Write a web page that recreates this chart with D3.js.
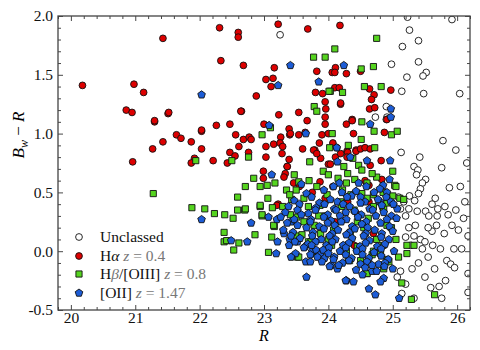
<!DOCTYPE html>
<html><head><meta charset="utf-8">
<script src="https://cdn.jsdelivr.net/npm/d3@7/dist/d3.min.js"></script>
<style>body{margin:0;background:#fff}svg{display:block}</style>
</head><body>
<svg id="c" width="480" height="350"></svg>
<script>
const xTicks=[20,21,22,23,24,25,26];
const yTicks=[-0.5,0.0,0.5,1.0,1.5,2.0];
const yTickLabels=["-0.5","0.0","0.5","1.0","1.5","2.0"];
const seriesNames=["Unclassed","Hα","Hβ/[OIII]","[OII]"];
const seriesZ=[null,"0.4","0.8","1.47"];

const unclassed=[[23.25,1.84],[25.23,1.99],[25.92,1.97],[25.26,1.88],[25.40,1.79],[25.15,1.74],[24.98,1.59],[25.40,1.61],[25.52,1.52],[25.47,1.49],[25.22,1.48],[25.14,1.36],[25.48,1.34],[26.04,1.34],[24.90,1.23],[24.73,1.14],[24.91,1.14],[24.90,1.12],
[25.78,0.94],[25.98,0.86],[25.13,0.84],[25.42,0.80],[25.33,0.72],[25.39,0.69],[25.76,0.71],[25.37,0.65],[25.51,0.61],[25.46,0.58],[25.88,0.54],[25.43,0.53],[25.40,0.49],[25.26,0.47],[25.34,0.43],[25.66,0.45],[25.61,0.40],[25.70,0.36],[25.81,0.38],[25.17,0.42],[25.25,0.36],[25.38,0.34],[25.51,0.34],[25.86,0.31],[25.69,0.30],[25.56,0.30],[25.20,0.30],[25.12,0.36],[25.09,0.46],
[26.17,0.13],[26.17,-0.19],[26.17,-0.35],[25.74,0.02],[25.95,0.02],[26.07,0.02],[25.84,-0.08],[25.90,-0.11],[25.96,-0.14],[25.61,0.17],[25.33,0.13],[25.43,0.10],[25.46,0.02],[25.12,-0.17],[25.07,-0.22],[25.14,-0.36],[25.33,-0.40],[25.59,-0.31],[25.72,-0.30],[25.76,-0.40],
[26.15,0.75],[26.05,0.55],[26.12,0.42],[25.98,0.35],[26.10,0.28],[25.92,0.22],[26.02,0.18],[25.80,0.15],[25.68,0.22],[25.55,0.20],[25.50,0.08],[25.62,0.05],[25.35,0.22],[25.25,0.20],[25.28,0.05],[25.20,0.12],[25.55,-0.05],[25.40,-0.10],[25.30,-0.15],[25.65,-0.15],[25.50,-0.22],[25.82,-0.25],[25.20,-0.28]];

const halpha=[[20.18,1.41],[21.43,1.81],[20.98,1.42],[21.13,1.35],[20.86,1.20],[20.95,1.18],[21.51,1.17],[21.30,1.10],
[22.31,1.90],[22.60,1.86],[22.60,1.82],[23.22,1.93],[23.68,1.89],[22.33,1.62],[22.68,1.58],[23.16,1.56],[23.03,1.46],[23.14,1.47],[23.11,1.40],[22.88,1.32],[23.82,1.53],[23.80,1.35],[23.91,1.34],[23.95,1.27],[23.96,1.21],[22.65,1.19],[23.23,1.16],[23.54,1.18],
[24.18,1.92],[24.11,1.56],[24.06,1.52],[24.10,1.52],[24.28,1.51],[24.50,1.53],[24.10,1.39],[24.17,1.39],[24.64,1.38],[24.97,1.37],[24.71,1.33],[24.67,1.29],[24.19,1.25],[24.64,1.21],[24.72,1.22],[24.37,1.12],[23.95,1.14],
[21.92,0.79],[21.87,0.75],[20.96,0.76],[21.27,0.87],[21.43,0.93],[21.64,0.99],[21.71,0.96],[21.87,0.93],[22.03,1.02],[22.03,0.87],[21.30,1.11],[21.52,1.18],
[22.64,1.19],[22.26,1.07],[22.47,1.08],[23.00,1.08],[24.19,1.26],[23.95,1.08],[24.28,1.08],[24.37,1.11],[22.03,1.03],[22.56,0.99],[22.68,0.95],[22.77,0.97],[22.80,0.95],[22.61,0.89],[22.76,0.84],[22.47,0.84],[22.43,0.75],[22.55,0.81],[22.21,0.77],[23.03,0.89],[23.15,0.91],[23.26,0.97],[23.25,0.92],[23.39,1.04],[23.40,0.99],[23.54,0.99],[23.67,1.11],[23.60,0.87],[23.03,0.80],[23.28,0.83],[23.39,0.78],[22.99,0.68],[23.36,0.72],[23.79,0.86],[23.88,0.79],[24.11,0.80],[24.00,0.74],[24.29,0.85],[24.43,0.86],[22.99,0.62],[23.22,0.40],
[24.87,1.01],[24.91,1.12],[24.07,0.92],[24.43,0.85],[24.50,0.87],[24.57,0.88],[24.65,0.87],[24.13,0.88],[24.30,0.84],[24.82,0.77],[24.65,0.73],[24.83,0.61],[24.57,0.60],
[23.29,0.89],[23.41,1.00],[23.64,1.01],[23.90,0.99],[23.86,0.92],[23.77,0.86],[23.82,0.83],[24.03,0.74],[23.36,0.72],[23.33,0.66],[23.31,0.63],[23.46,0.58],[23.55,0.55],[23.20,0.39],[24.63,0.56],[24.19,0.83],[24.29,0.80],[24.39,1.00],[24.00,1.00],[24.07,0.55],[23.87,0.59],
[24.46,0.31],[24.85,0.36],[24.63,0.42],[23.95,0.45],[24.30,0.42],[23.75,0.50],[24.10,0.25],[24.70,0.15],[24.40,0.05]];

const hbeta=[[24.75,1.81],[24.10,1.72],[23.95,1.65],[24.51,1.55],[24.70,1.57],[24.03,1.36],[24.22,1.35],[24.56,1.40],[24.82,1.40],[23.77,1.65],[24.01,1.36],[23.78,1.23],[23.82,1.19],
[22.97,0.99],[23.10,1.05],[24.06,1.00],[22.50,0.77],[22.76,0.80],[23.47,0.65],[23.71,0.76],[24.02,0.88],[22.71,0.55],[22.84,0.62],[22.59,0.46],[22.94,0.55],[23.05,0.56],[23.17,0.58],[23.06,0.45],[22.94,0.38],[23.13,0.37],[22.08,0.36],[22.23,0.32],[22.39,0.31],[22.52,0.28],[22.59,0.35],[22.70,0.35],[22.97,0.30],[23.16,0.21],[23.35,0.52],[23.54,0.59],[23.43,0.44],
[21.28,0.49],[21.88,0.37],[21.94,0.77],
[24.52,1.10],[24.71,1.02],[24.98,0.99],[25.07,1.02],[24.31,0.90],[24.51,0.95],[24.72,0.88],[24.38,0.79],[24.47,0.73],[24.24,0.72],[24.52,0.69],[25.00,0.68],[24.75,0.63],[24.68,0.66],[25.03,0.56],[25.00,0.47],[25.11,0.45],[24.70,0.38],[24.86,0.36],[25.17,0.44],[24.28,0.58],[24.41,0.61],[24.52,0.49],
[25.65,-0.37],[25.29,-0.41],[25.14,-0.27],
[22.71,0.36],[22.94,0.39],[22.97,0.31],[23.15,0.22],[22.86,0.14],[23.12,0.12],[23.07,-0.01],[23.29,0.38],[23.41,0.31],[23.51,0.29],[23.50,0.13],[23.59,0.14],[23.52,-0.05],[23.78,0.22],[23.69,0.08],[24.31,-0.07],[24.60,-0.19],[24.86,-0.15],[24.91,-0.07],[24.81,-0.02],[24.45,0.04],[24.91,0.22],[24.91,0.41],[24.34,0.16],[23.69,0.38],[23.87,0.39],[24.19,0.42],
[22.38,0.08],[22.42,0.09],[22.53,0.01],[22.61,0.07],[22.38,0.16],
[25.22,0.05],[25.09,-0.05],[24.94,-0.09],[24.60,-0.19],[25.33,0.05],[25.22,-0.02],[24.68,-0.03],[24.33,-0.08],[24.50,-0.08],[23.54,-0.05],[23.73,0.08],
[23.95,0.30],[24.08,0.18],[24.22,0.52],[24.62,0.28],[24.75,0.10],[24.05,0.05],[23.88,0.15],[24.40,0.35],[24.15,0.62],[23.92,0.68],[23.62,0.45],[23.82,0.55],[24.55,0.20],[24.28,0.00],[24.98,0.20],[25.05,0.10],[24.70,0.48],[23.98,0.48],[24.85,0.05],[23.75,-0.02],
[23.62,0.25],[24.00,0.10],[24.45,0.25],[24.70,0.00],[23.85,0.30],[24.20,0.38],[24.35,0.48],[24.60,0.45],[23.50,0.52],[23.70,0.60],[24.00,0.65],[24.30,0.66],[24.60,0.58],[24.85,0.50],[25.05,0.55],[23.40,0.48]];

const oii=[[22.03,1.33],[23.41,1.58],[23.22,1.41],[23.85,1.44],[24.24,1.58],[24.97,1.21],[24.97,1.14],[23.08,1.07],[23.65,1.00],[23.12,0.65],[22.80,0.24],[23.07,0.29],[22.03,0.27],[22.49,0.09],[24.65,1.08],[24.34,0.80],[24.14,0.76],[24.60,0.77],[24.96,0.77],[24.95,0.61],[24.59,0.55],[24.85,0.56],[24.91,0.50],[24.80,0.42],[25.07,0.36],[24.50,0.46],[24.17,0.58],[24.43,0.51],[24.13,0.88],
[22.74,0.08],[23.20,0.27],[23.42,0.25],[23.31,0.15],[23.21,0.08],[23.19,-0.02],[23.40,0.10],[23.39,0.05],[23.49,-0.02],[23.42,-0.05],[23.52,0.08],[23.64,0.04],[23.65,-0.09],[23.72,-0.09],[23.66,-0.22],[23.75,0.00],[23.81,0.01],[23.87,-0.03],[23.94,-0.06],[24.04,-0.12],[24.14,-0.15],[24.43,-0.16],[24.28,-0.25],[24.39,-0.26],[24.63,-0.32],[24.73,-0.37],[24.53,-0.20],[24.68,-0.17],[24.75,-0.17],[24.86,-0.23],[24.81,-0.26],[25.10,-0.40],[24.27,-0.25],
[23.58,0.57],[24.08,0.55],[24.47,0.58],[24.80,0.53],
[23.66,0.49],[23.93,0.52],[24.21,0.50],[24.36,0.47],[24.71,0.50],[24.90,0.46],
[23.47,0.43],[23.74,0.46],[23.86,0.41],[24.03,0.44],[24.14,0.42],[24.29,0.46],[24.57,0.42],[24.77,0.44],[24.97,0.42],
[23.38,0.38],[23.55,0.40],[23.81,0.37],[23.94,0.40],[24.09,0.36],[24.23,0.40],[24.33,0.38],[24.50,0.41],[24.64,0.36],[24.83,0.39],[25.01,0.40],
[23.33,0.33],[23.52,0.35],[23.69,0.32],[23.80,0.35],[23.99,0.31],[24.12,0.35],[24.27,0.33],[24.41,0.34],[24.51,0.31],[24.69,0.35],[24.86,0.33],[24.98,0.30],
[23.26,0.29],[23.47,0.27],[23.58,0.31],[23.73,0.27],[23.93,0.29],[24.04,0.26],[24.18,0.30],[24.28,0.27],[24.46,0.29],[24.59,0.25],[24.74,0.30],[24.91,0.27],[25.06,0.28],
[23.36,0.24],[23.52,0.22],[23.72,0.25],[23.86,0.21],[23.99,0.24],[24.10,0.22],[24.20,0.25],[24.37,0.21],[24.52,0.23],[24.61,0.20],[24.81,0.24],[24.95,0.21],
[23.30,0.18],[23.45,0.16],[23.66,0.20],[23.76,0.16],[23.93,0.19],[24.06,0.15],[24.15,0.18],[24.33,0.16],[24.41,0.19],[24.58,0.15],[24.72,0.18],[24.83,0.15],[25.00,0.17],
[23.42,0.13],[23.56,0.11],[23.75,0.13],[23.89,0.10],[24.02,0.13],[24.11,0.10],[24.28,0.14],[24.37,0.11],[24.55,0.13],[24.64,0.09],[24.82,0.12],[24.94,0.10],
[23.48,0.08],[23.68,0.06],[23.80,0.08],[23.97,0.05],[24.06,0.08],[24.23,0.05],[24.32,0.07],[24.49,0.04],[24.58,0.07],[24.76,0.04],[24.88,0.06],
[23.62,0.03],[23.74,0.05],[23.92,0.01],[24.01,0.03],[24.18,0.00],[24.27,0.03],[24.44,0.00],[24.53,0.02],[24.71,-0.01],[24.82,0.02],[25.02,0.00],
[23.72,-0.03],[23.83,-0.05],[24.00,-0.02],[24.09,-0.05],[24.27,-0.03],[24.36,-0.06],[24.53,-0.03],[24.63,-0.06],[24.82,-0.04],[24.93,-0.07],
[23.90,-0.09],[24.08,-0.07],[24.22,-0.10],[24.32,-0.08],[24.50,-0.11],[24.60,-0.09],[24.78,-0.11],[24.88,-0.10],
[24.02,-0.13],[24.16,-0.12],[24.57,-0.14],[24.68,-0.12],[24.87,-0.13],[25.00,-0.15]];

const L=58,R=470,T=16,B=310;
const svg=d3.select("#c");
const x=d3.scaleLinear().domain([19.8,26.2]).range([L,R]);
const y=d3.scaleLinear().domain([-0.5,2.0]).range([B,T]);
const FONT="'Liberation Serif','DejaVu Serif',serif";

const pentagon={draw(ctx,size){const r=Math.sqrt(size/(2.5*Math.sin(2*Math.PI/5)));
 for(let k=0;k<5;k++){const a=-Math.PI/2+k*2*Math.PI/5;const px=r*Math.cos(a),py=r*Math.sin(a);k?ctx.lineTo(px,py):ctx.moveTo(px,py);}ctx.closePath();}};
const styles=[
 {data:unclassed,type:d3.symbolCircle,size:36,fill:"#ffffff"},
 {data:halpha,type:d3.symbolCircle,size:36,fill:"#dd0000"},
 {data:hbeta,type:d3.symbolSquare,size:38,fill:"#55d41f"},
 {data:oii,type:pentagon,size:38,fill:"#1c5cd6"}];

svg.append("clipPath").attr("id","pc").append("rect").attr("x",L).attr("y",T).attr("width",R-L).attr("height",B-T);
const plot=svg.append("g").attr("clip-path","url(#pc)");
styles.forEach(s=>{
 plot.append("g").selectAll("path").data(s.data).join("path")
  .attr("transform",d=>`translate(${x(d[0])},${y(d[1])})`)
  .attr("d",d3.symbol().type(s.type).size(s.size))
  .attr("fill",s.fill).attr("stroke","#111").attr("stroke-width",0.9);
});

const xMinor=d3.range(19.8,26.21,0.2).map(v=>+v.toFixed(1)).filter(v=>Math.abs(v-Math.round(v))>1e-6);
const yMinor=d3.range(-0.4,2.0,0.1).map(v=>+v.toFixed(1)).filter(v=>Math.abs(v*2-Math.round(v*2))>1e-6);
function styleAxis(g){g.select(".domain").remove();g.selectAll("line").attr("stroke","#333").attr("stroke-width",0.9);
 g.selectAll("text").attr("font-family",FONT).attr("font-size",15.5).attr("fill","#111");}
svg.append("g").attr("transform",`translate(0,${B})`).call(d3.axisBottom(x).tickValues(xTicks).tickFormat(d3.format("d")).tickSizeInner(-5).tickSizeOuter(0).tickPadding(2)).call(styleAxis);
svg.append("g").attr("transform",`translate(0,${B})`).call(d3.axisBottom(x).tickValues(xMinor).tickFormat("").tickSizeInner(-3).tickSizeOuter(0)).call(styleAxis);
svg.append("g").attr("transform",`translate(0,${T})`).call(d3.axisTop(x).tickValues(xTicks).tickFormat("").tickSizeInner(-5).tickSizeOuter(0)).call(styleAxis);
svg.append("g").attr("transform",`translate(0,${T})`).call(d3.axisTop(x).tickValues(xMinor).tickFormat("").tickSizeInner(-3).tickSizeOuter(0)).call(styleAxis);
svg.append("g").attr("transform",`translate(${L},0)`).call(d3.axisLeft(y).tickValues(yTicks).tickFormat((d,i)=>yTickLabels[i]).tickSizeInner(-5).tickSizeOuter(0).tickPadding(5)).call(styleAxis);
svg.append("g").attr("transform",`translate(${L},0)`).call(d3.axisLeft(y).tickValues(yMinor).tickFormat("").tickSizeInner(-3).tickSizeOuter(0)).call(styleAxis);
svg.append("g").attr("transform",`translate(${R},0)`).call(d3.axisRight(y).tickValues(yTicks).tickFormat("").tickSizeInner(-5).tickSizeOuter(0)).call(styleAxis);
svg.append("g").attr("transform",`translate(${R},0)`).call(d3.axisRight(y).tickValues(yMinor).tickFormat("").tickSizeInner(-3).tickSizeOuter(0)).call(styleAxis);
svg.append("rect").attr("x",L).attr("y",T).attr("width",R-L).attr("height",B-T).attr("fill","none").attr("stroke","#444").attr("stroke-width",1.3);

svg.append("text").attr("x",264).attr("y",341).attr("text-anchor","middle").attr("font-family",FONT).attr("font-style","italic").attr("font-size",16).text("R");
const yl=svg.append("text").attr("transform","translate(24,135) rotate(-90)").attr("text-anchor","middle").attr("font-family",FONT).attr("font-size",17);
yl.append("tspan").attr("font-style","italic").text("B");
yl.append("tspan").attr("font-style","italic").attr("font-size",12).attr("dy",4).text("w");
yl.append("tspan").attr("dy",-4).text(" − ");
yl.append("tspan").attr("font-style","italic").text("R");

const legY=[237,256,274,293];
const lg=svg.append("g");
styles.forEach((s,i)=>{
 lg.append("path").attr("transform",`translate(79,${legY[i]})`).attr("d",d3.symbol().type(s.type).size(s.size)).attr("fill",s.fill).attr("stroke","#111").attr("stroke-width",0.9);
 const t=lg.append("text").attr("x",100).attr("y",legY[i]+5).attr("font-family",FONT).attr("font-size",15.5).attr("fill","#111");
 if(i===0){t.text(seriesNames[0]);}
 else if(i===1){t.append("tspan").text("H");t.append("tspan").attr("font-style","italic").text("α");}
 else if(i===2){t.append("tspan").text("H");t.append("tspan").attr("font-style","italic").attr("fill","#777").text("β");t.append("tspan").text("/[OIII]");}
 else {t.text("[OII]");}
 if(seriesZ[i]){t.append("tspan").attr("fill","#777").text(" ");t.append("tspan").attr("font-style","italic").attr("fill","#777").text("z");t.append("tspan").attr("fill","#777").text(" = "+seriesZ[i]);}
});
</script>
</body></html>
